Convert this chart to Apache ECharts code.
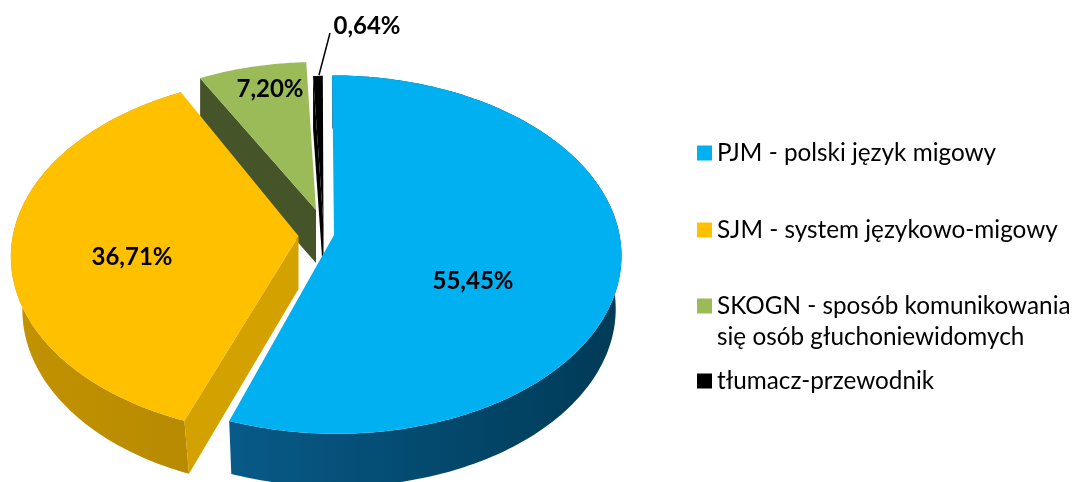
<!DOCTYPE html>
<html><head><meta charset="utf-8">
<style>html,body{margin:0;padding:0;background:#fff}#c{width:1074px;height:482px}</style>
<script src="https://cdn.jsdelivr.net/npm/echarts@6/dist/echarts.min.js"></script>
</head><body><div id="c"></div>
<script>
const categories = ['PJM - polski język migowy','SJM - system językowo-migowy','SKOGN - sposób komunikowania\nsię osób głuchoniewidomych','tłumacz-przewodnik'];
const values = [55.45, 36.71, 7.20, 0.64];
const topColors = ['#00B0F0','#FFC000','#9BBB59','#000000'];

// perspective projection of the tilted disc
const X0 = 316, Y0 = 232, R = 285, H = 176.4, K = 0.109, DEPTH = 53, FONT = 'Lato, Carlito, sans-serif';
const sliceLayout = [
  {apex:[334,235], scale:1,    turn:0,   floor:.98, z:5, label:[473,281], rim:['#085a88','#003a56'], cut:null},
  {apex:[298.5,236], scale:1,  turn:1.0, floor:.96, z:4, label:[132,257], rim:['#c29200','#b88a00'], cut:'#d3a200'},
  {apex:[316,210], scale:.95,  turn:0,   floor:1,   z:2, label:[270,89],  rim:null, cut:'#46542a'},
  {apex:[323.5,225], scale:.94,turn:0,   floor:1,   z:3, label:[367,26],  rim:null, cut:'#000', leader:[[330,33],[319,75]]}
];
const legendTops = [141, 218, 294, 369];

const total = values.reduce((a,b)=>a+b,0);
const startOf = i => values.slice(0,i).reduce((a,b)=>a+b,0)/total*360;

function sliceGeometry(i, value){
  const L = sliceLayout[i];
  const t1 = startOf(i)+L.turn, t2 = t1 + value/total*360;
  const dy = L.apex[1]-Y0, ov = dy/(H+K*dy);
  const ou = (L.apex[0]-X0)*(1-K*ov)/R;
  const proj = th => {
    const a = th*Math.PI/180;
    const u = Math.sin(a)*L.scale+ou, v = -Math.cos(a)*L.scale+ov, w = 1-K*v;
    return [X0+R*u/w, Y0+H*v/w];
  };
  const arc = [];
  const n = Math.max(2, Math.ceil((t2-t1)));
  for(let k=0;k<=n;k++) arc.push(proj(t1+(t2-t1)*k/n));
  const floor = p => [L.apex[0]+(p[0]-L.apex[0])*L.floor, p[1]+DEPTH];
  return {L, arc, floorArc: arc.map(floor), floor};
}

function renderSlice(i){
  return function(params, api){
    const value = api.value(0);
    const g = sliceGeometry(i, value), L = g.L, children = [];
    const poly = (pts, fill) => children.push({type:'polygon', shape:{points:pts}, style:{fill}});
    // outer wall (only slices facing the viewer show one)
    if(L.rim){
      poly(g.arc.concat(g.floorArc.slice().reverse()),
        new echarts.graphic.LinearGradient(0,0,1,0,[{offset:0,color:L.rim[0]},{offset:1,color:L.rim[1]}]));
    }
    // cut wall along the slice's starting edge
    if(L.cut){
      const e = g.arc[0];
      poly([L.apex, e, g.floor(e), g.floor(L.apex)], L.cut);
    }
    // top face
    poly([L.apex].concat(g.arc), topColors[i]);
    if(L.leader){
      children.push({type:'line', shape:{x1:L.leader[0][0],y1:L.leader[0][1],x2:L.leader[1][0],y2:L.leader[1][1]},
        style:{stroke:'#000',lineWidth:1.5}});
    }
    children.push({type:'text', z2:50, style:{text:value.toFixed(2).replace('.',',')+'%', x:L.label[0], y:L.label[1],
      align:'center', verticalAlign:'middle', fill:'#000', font:'bold 24px '+FONT}});
    return {type:'group', children};
  };
}

const chart = echarts.init(document.getElementById('c'), null, {renderer:'canvas'});
chart.setOption({
  animation:false,
  backgroundColor:'#fff',
  legend: categories.map((name,i)=>({
    data:[name], left:697, top:legendTops[i], orient:'vertical', icon:'rect', itemWidth:15, itemHeight:15,
    selectedMode:false, padding:0,
    formatter:n=>n.split('\n')[0],
    textStyle:{fontFamily:FONT, fontSize:24.3, color:'#000'}
  })),
  graphic:[{type:'text', left:717, top:325, silent:true,
    style:{text:categories[2].split('\n')[1], font:'24.3px '+FONT, fill:'#000'}}],
  series: categories.map((name,i)=>({
    type:'custom', name, coordinateSystem:'none', z:sliceLayout[i].z, silent:true,
    itemStyle:{color:topColors[i]},
    data:[[values[i]]],
    renderItem:renderSlice(i)
  }))
});
</script></body></html>
